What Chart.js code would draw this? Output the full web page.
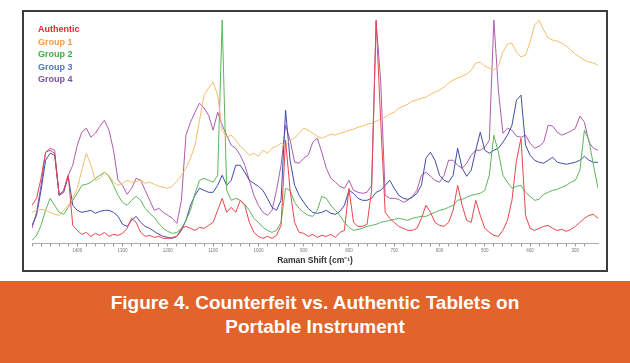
<!DOCTYPE html>
<html>
<head>
<meta charset="utf-8">
<script src="https://cdn.jsdelivr.net/npm/chart.js@4.4.0/dist/chart.umd.min.js"></script>
<style>
  html, body { margin: 0; padding: 0; background: #fff; }
  #page { position: relative; width: 630px; height: 363px; overflow: hidden; }
  #frame { position: absolute; left: 22px; top: 10px; width: 582px; height: 258px; border: 2px solid #3c3c3c; background: #fff; }
  #frame canvas { position: absolute; left: 0; top: 0; }
  #caption {
    position: absolute; left: 0; top: 281px; width: 630px; height: 82px;
    background: #e2642b; color: #fff; text-align: center; box-sizing: border-box;
    font-family: "Liberation Sans", sans-serif;
    font-weight: bold; font-size: 19px; line-height: 24px; padding-top: 10px;
  }
</style>
</head>
<body>
<div id="page">
  <div id="frame"><canvas id="chart" width="582" height="258"></canvas></div>
  <div id="caption">Figure 4. Counterfeit vs. Authentic Tablets on<br>Portable Instrument</div>
</div>
<script>
// Raman shift (cm-1), one row per 100 cm-1
var shifts = [
  1500, 1490, 1480, 1470, 1460, 1450, 1440, 1430, 1420, 1410,
  1400, 1390, 1380, 1370, 1360, 1350, 1340, 1330, 1320, 1310,
  1300, 1290, 1280, 1270, 1260, 1250, 1240, 1230, 1220, 1210,
  1200, 1190, 1180, 1170, 1160, 1150, 1140, 1130, 1120, 1110,
  1100, 1090, 1080, 1070, 1060, 1050, 1040, 1030, 1020, 1010,
  1000, 990, 980, 970, 960, 950, 940, 930, 920, 910,
  900, 890, 880, 870, 860, 850, 840, 830, 820, 810,
  800, 790, 780, 770, 760, 750, 740, 730, 720, 710,
  700, 690, 680, 670, 660, 650, 640, 630, 620, 610,
  600, 590, 580, 570, 560, 550, 540, 530, 520, 510,
  500, 490, 480, 470, 460, 450, 440, 430, 420, 410,
  400, 390, 380, 370, 360, 350, 340, 330, 320, 310,
  300, 290, 280, 270, 260, 250
]

var authentic = [
  38, 45, 65, 91, 93, 90, 48, 53, 68, 18,
  13, 9, 11, 7, 10, 8, 11, 7, 9, 8,
  10, 15, 25, 21, 11, 7, 8, 6, 7, 5,
  5, 6, 7, 15, 17, 15, 13, 16, 15, 18,
  21, 33, 45, 31, 36, 31, 43, 38, 21, 11,
  7, 5, 7, 5, 8, 18, 103, 53, 21, 11,
  10, 7, 9, 6, 8, 7, 9, 6, 11, 13,
  55, 21, 17, 17, 19, 53, 223, 123, 31, 25,
  21, 17, 15, 13, 13, 15, 25, 38, 31, 21,
  18, 17, 21, 33, 58, 38, 23, 21, 43, 28,
  15, 11, 8, 7, 13, 23, 43, 83, 105, 28,
  15, 13, 15, 17, 18, 15, 13, 14, 12, 14,
  17, 21, 25, 28, 29, 25
]

var group1 = [
  31, 33, 34, 33, 31, 29, 28, 33, 38, 45,
  55, 73, 90, 78, 63, 65, 71, 68, 61, 58,
  60, 63, 61, 62, 63, 60, 61, 59, 57, 56,
  55, 57, 62, 68, 75, 85, 98, 123, 148, 155,
  161, 148, 113, 106, 108, 103, 97, 93, 88, 90,
  87, 93, 90, 95, 97, 100, 98, 103, 105, 110,
  115, 113, 110, 107, 105, 107, 109, 108, 110, 111,
  113, 114, 116, 117, 119, 120, 122, 124, 126, 129,
  131, 135, 137, 139, 142, 143, 145, 146, 149, 151,
  153, 156, 160, 163, 165, 167, 169, 173, 180, 181,
  177, 175, 173, 177, 191, 199, 200, 191, 186, 188,
  201, 218, 223, 213, 205, 203, 202, 200, 197, 193,
  189, 186, 183, 181, 180, 178
]

var group2 = [
  3, 8, 18, 33, 45, 38, 31, 29, 36, 43,
  50, 58, 59, 61, 65, 68, 71, 67, 58, 48,
  41, 38, 43, 47, 43, 35, 30, 26, 20, 15,
  12, 10, 11, 15, 23, 33, 50, 63, 65, 63,
  61, 68, 223, 53, 43, 45, 43, 39, 33, 25,
  21, 16, 13, 11, 13, 21, 55, 53, 41, 35,
  31, 28, 27, 33, 47, 45, 38, 33, 28, 21,
  16, 13, 14, 15, 17, 18, 19, 21, 22, 23,
  24, 25, 24, 23, 25, 26, 27, 27, 29, 31,
  33, 34, 36, 38, 43, 44, 46, 48, 49, 50,
  53, 68, 108, 91, 68, 61, 55, 57, 58, 51,
  47, 43, 44, 49, 51, 53, 54, 56, 58, 61,
  63, 73, 113, 103, 78, 55
]

var group3 = [
  18, 28, 53, 83, 90, 88, 48, 51, 67, 38,
  33, 31, 32, 33, 30, 32, 33, 33, 31, 27,
  19, 17, 23, 27, 21, 17, 15, 12, 9, 7,
  6, 5, 7, 13, 23, 38, 48, 55, 53, 51,
  51, 58, 68, 58, 63, 78, 78, 71, 63, 60,
  57, 53, 45, 36, 33, 43, 133, 83, 58, 48,
  41, 35, 31, 30, 31, 33, 30, 29, 32, 38,
  53, 50, 45, 43, 43, 45, 51, 53, 58, 63,
  55, 48, 45, 44, 46, 50, 58, 85, 91, 83,
  68, 63, 61, 68, 95, 75, 67, 73, 93, 111,
  93, 90, 93, 95, 101, 108, 118, 143, 148, 98,
  88, 83, 81, 80, 83, 86, 81, 80, 79, 80,
  81, 83, 87, 83, 81, 81
]

var group4 = [
  15, 31, 58, 91, 95, 93, 48, 53, 68, 78,
  98, 111, 115, 106, 110, 117, 123, 113, 93, 63,
  58, 49, 55, 65, 63, 53, 43, 33, 35, 31,
  28, 25, 20, 43, 108, 121, 131, 140, 135, 128,
  113, 131, 118, 108, 98, 95, 88, 78, 63, 48,
  38, 31, 28, 33, 53, 78, 118, 103, 81, 80,
  85, 88, 101, 105, 91, 75, 65, 61, 57, 55,
  63, 53, 51, 50, 51, 58, 221, 163, 48, 45,
  45, 44, 41, 43, 47, 53, 68, 71, 67, 63,
  61, 68, 83, 83, 78, 75, 80, 88, 93, 93,
  96, 103, 223, 153, 110, 115, 113, 107, 106, 108,
  100, 95, 97, 101, 118, 117, 111, 108, 110, 112,
  115, 127, 121, 101, 95, 93
]

var seriesNames = ['Authentic', 'Group 1', 'Group 2', 'Group 3', 'Group 4']
var lineColors = ['#e8464f', '#f6bd6c', '#5db65b', '#3f4ca6', '#ad5cb0']
var labelColors = ['#e2262f', '#f39a46', '#3fae49', '#4a78c2', '#7b4fa0']
var tickLabels = [1400, 1300, 1200, 1100, 1000, 900, 800, 700, 600, 500, 400, 300]

function pairs(ys) {
    return shifts.map((s, i) => ({ x: s, y: ys[i] }))
}

// coloured names in the upper left instead of a boxed legend
var nameLegend = {
    id: 'nameLegend',
    afterDraw(chart) {
        var c = chart.ctx
        c.save()
        c.font = 'bold 9px "Liberation Sans", sans-serif'
        c.textBaseline = 'middle'
        seriesNames.forEach((n, i) => {
            c.fillStyle = labelColors[i]
            c.fillText(n, 14, 18 + i * 12.5)
        })
        c.restore()
    }
}

window.onload = () => {
    var ctx = document.getElementById('chart').getContext('2d')
    var all = [authentic, group1, group2, group3, group4]

    new Chart(ctx, {
        type: 'line',
        data: {
            datasets: all.map((ys, i) => ({
                label: seriesNames[i],
                data: pairs(ys),
                borderColor: lineColors[i],
                backgroundColor: lineColors[i],
                borderWidth: 1,
                pointRadius: 0,
                tension: 0,
                fill: false
            }))
        },
        options: {
            responsive: false,
            animation: false,
            layout: { padding: { left: 8, right: 8, top: 1, bottom: 4 } },
            plugins: { legend: { display: false }, tooltip: { enabled: false } },
            scales: {
                x: {
                    type: 'linear',
                    reverse: true,
                    min: 250,
                    max: 1500,
                    afterBuildTicks: s => { s.ticks = s.ticks.filter(t => t.value % 20 === 0) },
                    ticks: {
                        stepSize: 20,
                        autoSkip: false,
                        maxRotation: 0,
                        padding: 2,
                        color: '#777',
                        font: { size: 4.5 },
                        callback: v => tickLabels.includes(v) ? String(v) : ''
                    },
                    grid: { drawOnChartArea: false, drawTicks: true, tickLength: 3, color: '#999' },
                    border: { display: true, color: '#aaa', width: 1 },
                    title: {
                        display: true,
                        text: 'Raman Shift (cm\u207B\u00B9)',
                        color: '#333',
                        font: { size: 8.5, weight: 'bold' },
                        padding: { top: 0, bottom: 0 }
                    }
                },
                y: { display: false, min: 0, max: 230 }
            }
        },
        plugins: [nameLegend]
    })
}
</script>
</body>
</html>
